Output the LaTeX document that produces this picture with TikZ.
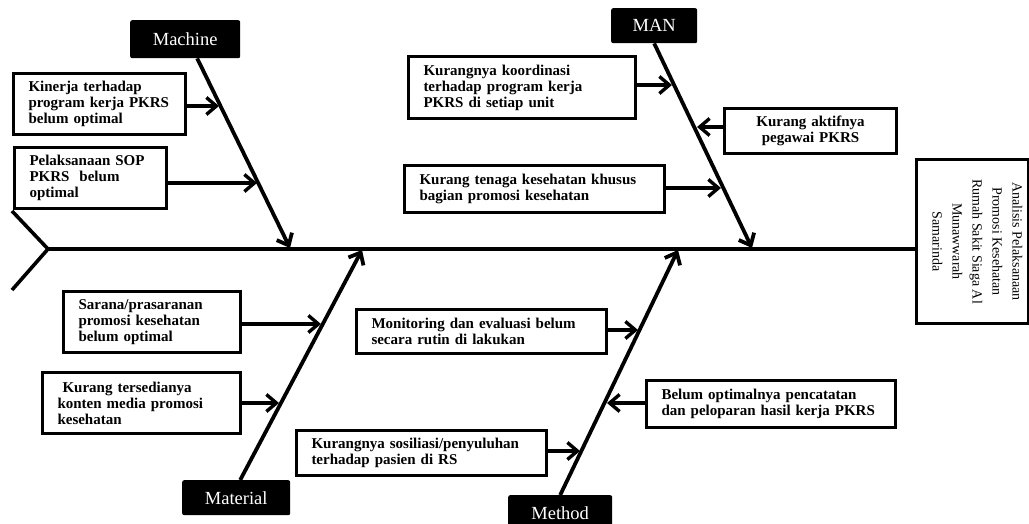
\documentclass[tikz,border=0pt]{standalone}
\usepackage{fontspec}
\setmainfont{Liberation Serif}
\usetikzlibrary{arrows.meta}

\tikzset{
  cause/.style={draw, line width=3pt, anchor=north west, align=left, inner xsep=15pt, inner ysep=0pt,
    font=\bfseries\fontsize{15}{16}\selectfont},
  category/.style={fill=black, rounded corners=2pt, text=white, anchor=north west, inner sep=0pt,
    font=\fontsize{18.5}{20}\selectfont},
  bone/.style={line width=3.8pt, -{Straight Barb[length=10pt,width=17pt]}},
  link/.style={line width=3.4pt, -{Straight Barb[length=10pt,width=17pt]}}
}

\begin{document}
\begin{tikzpicture}[x=1pt, y=-1pt]
  \useasboundingbox (0,0) rectangle (1029,524);
  \node[draw, line width=3pt, anchor=north west, minimum width=112pt, minimum height=164pt] (head) at (915,158) {};
  \node[rotate=-90, align=center, font=\fontsize{14}{20}\selectfont] (title) at ([xshift=5pt]head.center)
    {Analisis Pelaksanaan\\ Promosi Kesehatan\\ Rumah Sakit Siaga Al\\ Munawwarah\\ Samarinda};

  \coordinate (tail) at (48,249);
  \coordinate (tt) at (12,211);
  \coordinate (tb) at (12,290);
  \draw[line width=3.6pt] (tt) -- (tail) -- (tb);
  \draw[line width=3.6pt] (tail) -- (tail -| head.west);

  \node[category, minimum width=110pt, minimum height=38pt] (mach) at (130,20) {Machine};
  \node[category, minimum width=86pt, minimum height=35pt] (man) at (611,8) {MAN};
  \node[category, minimum width=108pt, minimum height=35pt] (mat) at (182,480) {Material};
  \node[category, minimum width=104pt, minimum height=36pt] (met) at (508,495) {Method};

  \coordinate (s1) at (290,248);
  \coordinate (s2) at (752,248);
  \coordinate (s3) at (362,250);
  \coordinate (s4) at (678,250);
  \draw[bone] ([xshift=12pt]mach.south) -- (s1);
  \draw[bone] (man.south) -- (s2);
  \draw[bone] ([xshift=4pt]mat.north) -- (s3);
  \draw[bone] (met.north) -- (s4);

  \node[cause, text width=142pt, minimum height=61pt] (kin) at (12,72) {Kinerja terhadap\\ program kerja PKRS\\ belum optimal};
  \node[cause, text width=122pt, minimum height=61pt] (pel) at (13,146) {Pelaksanaan SOP\\ PKRS\ \ belum\\ optimal};
  \node[cause, text width=197pt, minimum height=62pt] (koo) at (407,55) {Kurangnya koordinasi\\ terhadap program kerja\\ PKRS di setiap unit};
  \node[cause, text width=230pt, minimum height=47pt] (ten) at (403,164) {Kurang tenaga kesehatan khusus\\ bagian promosi kesehatan};
  \node[cause, align=center, text width=142pt, minimum height=45pt] (akt) at (723,107) {Kurang aktifnya\\ pegawai PKRS};
  \node[cause, text width=147pt, minimum height=61pt] (sar) at (62,290) {Sarana/prasaranan\\ promosi kesehatan\\ belum optimal};
  \node[cause, text width=168pt, minimum height=61pt] (ter) at (41,371) {\ Kurang tersedianya\\ konten media promosi\\ kesehatan};
  \node[cause, text width=220pt, minimum height=44pt] (mon) at (355,308) {Monitoring dan evaluasi belum\\ secara rutin di lakukan};
  \node[cause, text width=219pt, minimum height=47pt] (bel) at (645,379) {Belum optimalnya pencatatan\\ dan peloparan hasil kerja PKRS};
  \node[cause, text width=220pt, minimum height=45pt] (sos) at (295,429) {Kurangnya sosiliasi/penyuluhan\\ terhadap pasien di RS};

  \coordinate (b1) at (219,106);
  \coordinate (b2) at (257,183);
  \coordinate (b3) at (672,85);
  \coordinate (b4) at (697,127);
  \coordinate (b5) at (721,188);
  \coordinate (b6) at (321,324);
  \coordinate (b7) at (279,403);
  \coordinate (b8) at (638,330);
  \coordinate (b9) at (607,403);
  \coordinate (b10) at (580,451);
  \draw[link] (kin.east |- b1) -- (b1);
  \draw[link] (pel.east |- b2) -- (b2);
  \draw[link] (koo.east |- b3) -- (b3);
  \draw[link] (akt.west |- b4) -- (b4);
  \draw[link] (ten.east |- b5) -- (b5);
  \draw[link] (sar.east |- b6) -- (b6);
  \draw[link] (ter.east |- b7) -- (b7);
  \draw[link] (mon.east |- b8) -- (b8);
  \draw[link] (bel.west |- b9) -- (b9);
  \draw[link] (sos.east |- b10) -- (b10);
\end{tikzpicture}
\end{document}
